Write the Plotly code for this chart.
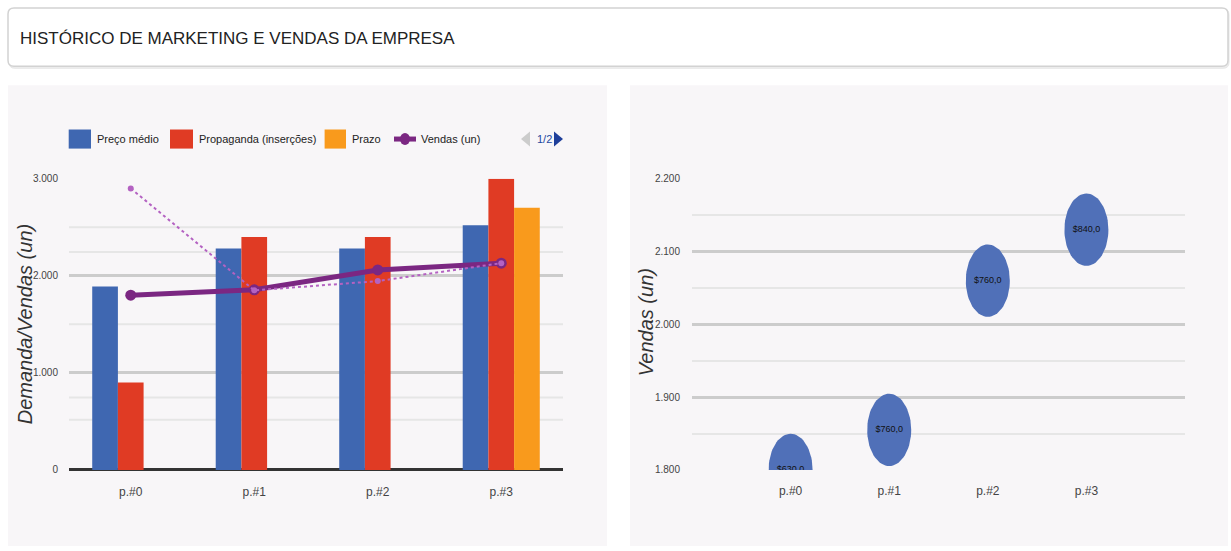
import numpy as np
import plotly.graph_objects as go

W, H = 1231, 551

# ---------------- data ----------------
categorias = ["p.#0", "p.#1", "p.#2", "p.#3"]
preco_medio = [1890, 2280, 2280, 2520]
propaganda = [900, 2400, 2400, 3000]
prazo = [0, 0, 0, 2700]
vendas = [1800, 1855, 2060, 2130]
demanda = [2900, 1850, 1945, 2130]
precos_rotulo = [630.0, 760.0, 760.0, 840.0]
nomes = ["Preço médio", "Propaganda (inserções)", "Prazo", "Vendas (un)", "Demanda (un)"]
titulo = "HISTÓRICO DE MARKETING E VENDAS DA EMPRESA"
titulo_esq = "Demanda/Vendas (un)"
titulo_dir = "Vendas (un)"
ticks_esq = [0, 1000, 2000, 3000]
ticks_dir = [1800, 1900, 2000, 2100, 2200]
grade_menor_esq = [517, 745, 1500, 2245, 2500]
pagina_legenda = "1/2"

# ---------------- style ----------------
FN = "Liberation Sans, Arial, sans-serif"
AZUL = "#3f67b1"
VERMELHO = "#e03b24"
LARANJA = "#f99a1c"
ROXO = "#7b2782"
ROXO_CLARO = "#b462c2"
BOLHA = "#5070b8"
PAINEL = "#f8f6f8"

# vertical calibration of the photographed page (screen y -> figure y)
Y_OFF, Y_SCALE = 6.0, 0.976


def px(x):
    return x / W


def py(y):
    yf = (y - Y_OFF) / Y_SCALE
    return min(1.0, max(0.0, 1 - yf / H))


L_X0, L_X1 = 69, 563
R_X0, R_X1 = 692, 1185
P_Y0, P_Y1 = 178, 468

fig = go.Figure()

for vals, nome, cor in [(preco_medio, nomes[0], AZUL),
                        (propaganda, nomes[1], VERMELHO),
                        (prazo, nomes[2], LARANJA)]:
    fig.add_trace(go.Bar(x=categorias, y=vals, name=nome, marker_color=cor,
                         marker_line_width=0, xaxis="x", yaxis="y", showlegend=False))

fig.add_trace(go.Scatter(x=categorias, y=vendas, name=nomes[3], mode="lines+markers",
                         line=dict(color=ROXO, width=5), marker=dict(size=11, color=ROXO),
                         xaxis="x", yaxis="y", showlegend=False))
fig.add_trace(go.Scatter(x=categorias, y=demanda, name=nomes[4], mode="lines+markers",
                         line=dict(color=ROXO_CLARO, width=2, dash="dot"),
                         marker=dict(size=6, color=ROXO_CLARO),
                         xaxis="x", yaxis="y", showlegend=False))

rx = 22 / ((R_X1 - R_X0) / 5.0)
ry = 36 / ((P_Y1 - P_Y0) / 400.0)
t = np.linspace(0, 2 * np.pi, 73)
for i, v in enumerate(vendas):
    fig.add_trace(go.Scatter(x=i + rx * np.cos(t), y=v + ry * np.sin(t), mode="lines",
                             fill="toself", fillcolor=BOLHA, line=dict(width=0, color=BOLHA),
                             xaxis="x2", yaxis="y2", showlegend=False, hoverinfo="skip"))
rotulos = [("$%.1f" % p).replace(".", ",") for p in precos_rotulo]
fig.add_trace(go.Scatter(x=list(range(len(categorias))), y=vendas, mode="text", text=rotulos,
                         textfont=dict(family=FN, size=9, color="#111"),
                         xaxis="x2", yaxis="y2", showlegend=False))

shapes = []
shapes.append(dict(type="rect", xref="paper", yref="paper", x0=px(8), x1=px(607),
                   y0=py(548), y1=py(85), fillcolor=PAINEL, line_width=0, layer="below"))
shapes.append(dict(type="rect", xref="paper", yref="paper", x0=px(630), x1=px(1228),
                   y0=py(548), y1=py(85), fillcolor=PAINEL, line_width=0, layer="below"))


def rrect(x0, y0, x1, y1, r):
    return (f"M {px(x0+r)} {py(y0)} L {px(x1-r)} {py(y0)} "
            f"Q {px(x1)} {py(y0)} {px(x1)} {py(y0+r)} L {px(x1)} {py(y1-r)} "
            f"Q {px(x1)} {py(y1)} {px(x1-r)} {py(y1)} L {px(x0+r)} {py(y1)} "
            f"Q {px(x0)} {py(y1)} {px(x0)} {py(y1-r)} L {px(x0)} {py(y0+r)} "
            f"Q {px(x0)} {py(y0)} {px(x0+r)} {py(y0)} Z")


shapes.append(dict(type="path", xref="paper", yref="paper", path=rrect(9, 9, 1229, 68, 6),
                   fillcolor="#eeeeee", line=dict(color="#e6e6e6", width=1), layer="below"))
shapes.append(dict(type="path", xref="paper", yref="paper", path=rrect(8, 8, 1228, 66, 6),
                   fillcolor="white", line=dict(color="#d2d2d2", width=1.5), layer="below"))

for g in grade_menor_esq:
    shapes.append(dict(type="line", xref="x domain", yref="y", x0=0, x1=1, y0=g, y1=g,
                       line=dict(color="#e6e6e6", width=2), layer="below"))

LEG_Y0, LEG_Y1, LEG_YC = 129, 148, 138.5
leg_items = [(68.7, 91, AZUL, nomes[0], 95),
             (170, 193, VERMELHO, nomes[1], 196.5),
             (324.6, 346, LARANJA, nomes[2], 350)]
annotations = []
legfont = dict(family=FN, size=11, color="#222")
for x0, x1, cor, nome, tx in leg_items:
    shapes.append(dict(type="rect", xref="paper", yref="paper", x0=px(x0), x1=px(x1),
                       y0=py(LEG_Y1), y1=py(LEG_Y0), fillcolor=cor, line_width=0))
    annotations.append(dict(x=px(tx), y=py(LEG_YC), xref="paper", yref="paper", text=nome,
                            showarrow=False, xanchor="left", yanchor="middle", font=legfont))
shapes.append(dict(type="line", xref="paper", yref="paper", x0=px(394), x1=px(416),
                   y0=py(LEG_YC), y1=py(LEG_YC), line=dict(color=ROXO, width=5)))
shapes.append(dict(type="circle", xref="paper", yref="paper", x0=px(400), x1=px(410),
                   y0=py(LEG_YC + 6), y1=py(LEG_YC - 6), fillcolor=ROXO, line_width=0))
annotations.append(dict(x=px(419), y=py(LEG_YC), xref="paper", yref="paper", text=nomes[3],
                        showarrow=False, xanchor="left", yanchor="middle", font=legfont))
shapes.append(dict(type="path", xref="paper", yref="paper",
                   path=f"M {px(530)} {py(131)} L {px(530)} {py(146)} L {px(521)} {py(LEG_YC)} Z",
                   fillcolor="#cccccc", line_width=0))
shapes.append(dict(type="path", xref="paper", yref="paper",
                   path=f"M {px(554)} {py(131)} L {px(554)} {py(146)} L {px(563)} {py(LEG_YC)} Z",
                   fillcolor="#1f3f9a", line_width=0))
annotations.append(dict(x=px(544), y=py(LEG_YC), xref="paper", yref="paper", text=pagina_legenda,
                        showarrow=False, xanchor="center", yanchor="middle",
                        font=dict(family=FN, size=11, color="#2448a0")))
annotations.append(dict(x=px(18), y=py(38), xref="paper", yref="paper", text=titulo,
                        showarrow=False, xanchor="left", yanchor="middle",
                        font=dict(family=FN, size=17, color="#222")))

titlefont = dict(family=FN, size=20, color="#333", style="italic")
annotations.append(dict(x=px(25), y=py(323), xref="paper", yref="paper", text=titulo_esq,
                        textangle=-90, showarrow=False, xanchor="center", yanchor="middle",
                        font=titlefont))
annotations.append(dict(x=px(646), y=py(321), xref="paper", yref="paper", text=titulo_dir,
                        textangle=-90, showarrow=False, xanchor="center", yanchor="middle",
                        font=titlefont))

tickfont = dict(family=FN, size=10, color="#444")
xtickfont = dict(family=FN, size=12, color="#444")

fig.update_layout(
    width=W, height=H, margin=dict(l=0, r=0, t=0, b=0),
    paper_bgcolor="white", plot_bgcolor="rgba(0,0,0,0)",
    separators=",.",
    barmode="group", bargap=0.376, bargroupgap=0,
    showlegend=False,
    shapes=shapes, annotations=annotations,
    xaxis=dict(domain=[px(L_X0), px(L_X1)], anchor="y", type="category",
               showgrid=False, zeroline=False, showline=False,
               ticks="outside", ticklen=11, tickcolor="rgba(0,0,0,0)", tickfont=xtickfont),
    yaxis=dict(domain=[py(P_Y1), py(P_Y0)], anchor="x", range=[0, 3000],
               tickvals=ticks_esq, tickformat=",d",
               showgrid=True, gridcolor="#cccccc", gridwidth=3,
               zeroline=True, zerolinecolor="#333333", zerolinewidth=3,
               ticks="outside", ticklen=8, tickcolor="rgba(0,0,0,0)", tickfont=tickfont),
    xaxis2=dict(domain=[px(R_X0), px(R_X1)], anchor="y2", range=[-1, 4],
                tickvals=list(range(len(categorias))), ticktext=categorias,
                showgrid=False, zeroline=False, showline=False,
                ticks="outside", ticklen=10, tickcolor="rgba(0,0,0,0)", tickfont=xtickfont),
    yaxis2=dict(domain=[py(P_Y1), py(P_Y0)], anchor="x2", range=[1800, 2200],
                tickvals=ticks_dir, tickformat=",d",
                showgrid=True, gridcolor="#cccccc", gridwidth=3, zeroline=False,
                minor=dict(dtick=50, showgrid=True, gridcolor="#e6e6e6", gridwidth=2),
                ticks="outside", ticklen=9, tickcolor="rgba(0,0,0,0)", tickfont=tickfont),
)

fig.write_html("out.html")
